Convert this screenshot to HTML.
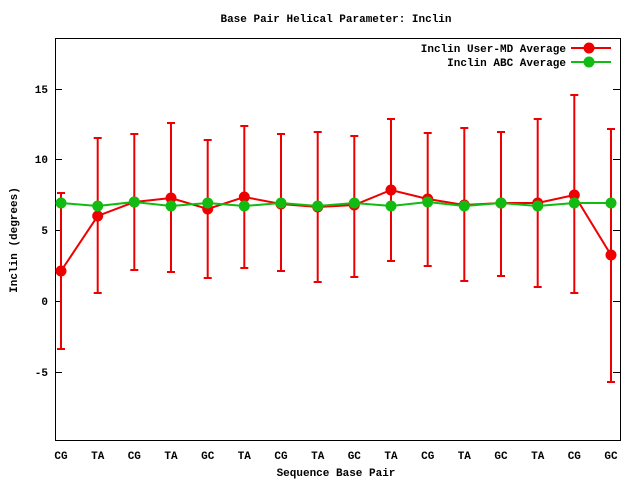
<!DOCTYPE html>
<html><head><meta charset="utf-8"><style>
body{margin:0;background:#fff}
svg{display:block}
text{font-family:"Liberation Mono","DejaVu Sans Mono",monospace;font-size:11px;font-weight:bold;fill:#000}
</style></head><body>
<svg width="640" height="480" viewBox="0 0 640 480" xmlns="http://www.w3.org/2000/svg">
<rect x="0" y="0" width="640" height="480" fill="#fff"/>
<text x="336" y="22" text-anchor="middle">Base Pair Helical Parameter: Inclin</text>
<rect x="55.5" y="38.5" width="565" height="402" fill="none" stroke="#000" stroke-width="1"/>
<g stroke="#000" stroke-width="1">
<line x1="55" y1="89.5" x2="62" y2="89.5"/><line x1="620" y1="89.5" x2="613" y2="89.5"/>
<line x1="55" y1="159.5" x2="62" y2="159.5"/><line x1="620" y1="159.5" x2="613" y2="159.5"/>
<line x1="55" y1="230.5" x2="62" y2="230.5"/><line x1="620" y1="230.5" x2="613" y2="230.5"/>
<line x1="55" y1="301.5" x2="62" y2="301.5"/><line x1="620" y1="301.5" x2="613" y2="301.5"/>
<line x1="55" y1="372.5" x2="62" y2="372.5"/><line x1="620" y1="372.5" x2="613" y2="372.5"/>
</g>
<g text-anchor="end">
<text x="48" y="93">15</text><text x="48" y="163">10</text><text x="48" y="234">5</text><text x="48" y="305">0</text><text x="48" y="376">-5</text>
</g>
<g text-anchor="middle">
<text x="61" y="459">CG</text><text x="97.7" y="459">TA</text><text x="134.3" y="459">CG</text><text x="171" y="459">TA</text><text x="207.7" y="459">GC</text><text x="244.3" y="459">TA</text><text x="281" y="459">CG</text><text x="317.7" y="459">TA</text><text x="354.3" y="459">GC</text><text x="391" y="459">TA</text><text x="427.7" y="459">CG</text><text x="464.3" y="459">TA</text><text x="501" y="459">GC</text><text x="537.7" y="459">TA</text><text x="574.3" y="459">CG</text><text x="611" y="459">GC</text>
</g>
<text x="336" y="476" text-anchor="middle">Sequence Base Pair</text>
<text x="17" y="240" text-anchor="middle" transform="rotate(-90 17 240)">Inclin (degrees)</text>
<g stroke="#e00" stroke-width="2">
<path d="M61 193V349M97.7 138V293M134.3 134V270M171 123V272M207.7 140V278M244.3 126V268M281 134V271M317.7 132V282M354.3 136V277M391 119V261M427.7 133V266M464.3 128V281M501 132V276M537.7 119V287M574.3 95V293M611 129V382"/>
<path d="M57 193h8M57 349h8M93.7 138h8M93.7 293h8M130.3 134h8M130.3 270h8M167 123h8M167 272h8M203.7 140h8M203.7 278h8M240.3 126h8M240.3 268h8M277 134h8M277 271h8M313.7 132h8M313.7 282h8M350.3 136h8M350.3 277h8M387 119h8M387 261h8M423.7 133h8M423.7 266h8M460.3 128h8M460.3 281h8M497 132h8M497 276h8M533.7 119h8M533.7 287h8M570.3 95h8M570.3 293h8M607 129h8M607 382h8"/>
</g>
<polyline fill="none" stroke="#e00" stroke-width="2" points="61,271 97.7,216 134.3,202 171,198 207.7,209 244.3,197 281,204 317.7,207 354.3,205 391,190 427.7,199 464.3,205 501,203 537.7,203 574.3,195 611,255"/>
<g fill="#e00">
<circle cx="61" cy="271" r="5.5"/><circle cx="97.7" cy="216" r="5.5"/><circle cx="134.3" cy="202" r="5.5"/><circle cx="171" cy="198" r="5.5"/><circle cx="207.7" cy="209" r="5.5"/><circle cx="244.3" cy="197" r="5.5"/><circle cx="281" cy="204" r="5.5"/><circle cx="317.7" cy="207" r="5.5"/><circle cx="354.3" cy="205" r="5.5"/><circle cx="391" cy="190" r="5.5"/><circle cx="427.7" cy="199" r="5.5"/><circle cx="464.3" cy="205" r="5.5"/><circle cx="501" cy="203" r="5.5"/><circle cx="537.7" cy="203" r="5.5"/><circle cx="574.3" cy="195" r="5.5"/><circle cx="611" cy="255" r="5.5"/>
</g>
<polyline fill="none" stroke="#1b1" stroke-width="2" points="61,203 97.7,206 134.3,202 171,206 207.7,203 244.3,206 281,203 317.7,206 354.3,203 391,206 427.7,202 464.3,206 501,203 537.7,206 574.3,203 611,203"/>
<g fill="#1b1">
<circle cx="61" cy="203" r="5.5"/><circle cx="97.7" cy="206" r="5.5"/><circle cx="134.3" cy="202" r="5.5"/><circle cx="171" cy="206" r="5.5"/><circle cx="207.7" cy="203" r="5.5"/><circle cx="244.3" cy="206" r="5.5"/><circle cx="281" cy="203" r="5.5"/><circle cx="317.7" cy="206" r="5.5"/><circle cx="354.3" cy="203" r="5.5"/><circle cx="391" cy="206" r="5.5"/><circle cx="427.7" cy="202" r="5.5"/><circle cx="464.3" cy="206" r="5.5"/><circle cx="501" cy="203" r="5.5"/><circle cx="537.7" cy="206" r="5.5"/><circle cx="574.3" cy="203" r="5.5"/><circle cx="611" cy="203" r="5.5"/>
</g>
<text x="566" y="52" text-anchor="end">Inclin User-MD Average</text>
<line x1="571" y1="48" x2="611" y2="48" stroke="#e00" stroke-width="2"/>
<circle cx="589" cy="48" r="5.5" fill="#e00"/>
<text x="566" y="66" text-anchor="end">Inclin ABC Average</text>
<line x1="571" y1="62" x2="611" y2="62" stroke="#1b1" stroke-width="2"/>
<circle cx="589" cy="62" r="5.5" fill="#1b1"/>
</svg>
</body></html>
